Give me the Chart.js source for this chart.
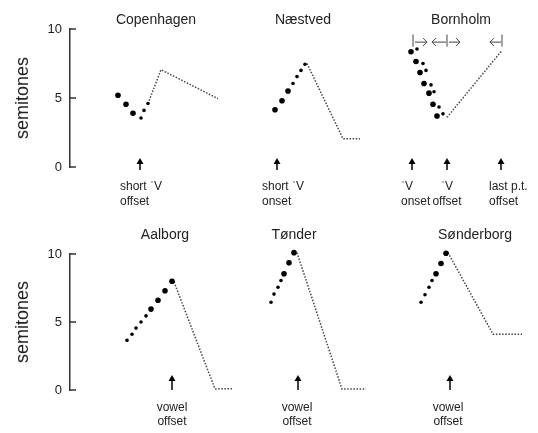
<!DOCTYPE html>
<html lang="en">
<head>
<meta charset="UTF-8">
<title>Stød pitch contours</title>
<style>
    body { margin: 0; background: #fff; }
    .wrap { position: relative; width: 538px; height: 433px; }
    canvas { position: absolute; left: 0; }
    #topRow { top: 0; }
    #bottomRow { top: 216px; }
</style>
</head>
<body>
<div class="wrap">
    <canvas id="topRow" width="538" height="216"></canvas>
    <canvas id="bottomRow" width="538" height="217"></canvas>
</div>

<script src="https://cdn.jsdelivr.net/npm/chart.js"></script>
<script>
// y axis (semitones)
const yTicks = [0, 5, 10];

// ---- top row: Copenhagen, Næstved, Bornholm ----
// x is a shared time axis across the row (arbitrary units)
const topTitles = ['Copenhagen', 'Næstved', 'Bornholm'];
const topTitleX = [86, 233, 391];

const cphBigX = [48, 56, 63];
const cphBigY = [5.2, 4.55, 3.9];
const cphSmallX = [71, 74, 78];
const cphSmallY = [3.55, 4.1, 4.6];
const cphLineX = [78, 91, 148];
const cphLineY = [4.6, 7.05, 4.95];

const naeBigX = [205, 212, 218];
const naeBigY = [4.15, 4.8, 5.5];
const naeSmallX = [223, 227, 231, 235];
const naeSmallY = [6.05, 6.55, 7.0, 7.45];
const naeLineX = [237, 273, 290];
const naeLineY = [7.5, 2.05, 2.05];

const bornBigX = [341, 346, 350, 354, 359, 363, 367];
const bornBigY = [8.35, 7.65, 6.85, 6.05, 5.35, 4.55, 3.7];
const bornSmallX = [347, 353, 356, 361, 364, 369, 373];
const bornSmallY = [8.55, 7.5, 7.0, 5.95, 5.45, 4.35, 3.85];
const bornLineX = [377, 432];
const bornLineY = [3.6, 8.45];

const topArrowX = [70, 207, 342, 377, 431];
const topLabels = [
    { x: 50, align: 'left', lines: ['short ˈV', 'offset'] },
    { x: 192, align: 'left', lines: ['short ˈV', 'onset'] },
    { x: 331, align: 'left', lines: ['ˈV', 'onset'] },
    { x: 377, align: 'center', lines: ['ˈV', 'offset'] },
    { x: 419, align: 'left', lines: ['last p.t.', 'offset'] }
];
// interval markers above Bornholm
const bornBarX = [343, 377, 432];
const bornSpanFrom = [345, 376, 379, 431];
const bornSpanTo = [357, 362, 390, 420];

// ---- bottom row: Aalborg, Tønder, Sønderborg ----
const botTitles = ['Aalborg', 'Tønder', 'Sønderborg'];
const botTitleX = [95, 224, 405];

const aalSmallX = [57, 62, 66, 71, 76];
const aalSmallY = [3.65, 4.1, 4.55, 5.0, 5.45];
const aalBigX = [81, 88, 95, 102];
const aalBigY = [5.95, 6.6, 7.3, 8.0];
const aalLineX = [104, 145, 162];
const aalLineY = [7.95, 0.08, 0.1];

const tonSmallX = [201, 204, 208, 211];
const tonSmallY = [6.45, 7.05, 7.55, 8.05];
const tonBigX = [214, 219, 224];
const tonBigY = [8.55, 9.35, 10.1];
const tonLineX = [227, 272, 296];
const tonLineY = [10.1, 0.07, 0.07];

const sonSmallX = [351, 355, 359, 362];
const sonSmallY = [6.45, 7.0, 7.55, 8.05];
const sonBigX = [366, 371, 376];
const sonBigY = [8.55, 9.3, 10.05];
const sonLineX = [378, 423, 452];
const sonLineY = [10.1, 4.1, 4.1];

const botArrowX = [102, 228, 380];
const botLabels = [
    { x: 102, align: 'center', lines: ['vowel', 'offset'] },
    { x: 227, align: 'center', lines: ['vowel', 'offset'] },
    { x: 378, align: 'center', lines: ['vowel', 'offset'] }
];

const FONT = 'Arial, "Liberation Sans", sans-serif';
Chart.defaults.font.family = FONT;
Chart.defaults.color = '#222';

const pts = (xs, ys) => xs.map((v, i) => ({ x: v, y: ys[i] }));
const bigDots = (xs, ys) => ({
    data: pts(xs, ys), showLine: false, clip: false,
    pointRadius: 2.8, pointBackgroundColor: '#000', pointBorderWidth: 0
});
const smallDots = (xs, ys) => ({
    data: pts(xs, ys), showLine: false, clip: false,
    pointRadius: 1.8, pointBackgroundColor: '#000', pointBorderWidth: 0
});
const contour = (xs, ys) => ({
    data: pts(xs, ys), showLine: true, pointRadius: 0, clip: false,
    borderColor: '#444', borderWidth: 1.5, borderDash: [1.5, 1.6], fill: false
});

function arrowUp(ctx, x, tip, tail) {
    ctx.strokeStyle = '#000';
    ctx.fillStyle = '#000';
    ctx.lineWidth = 1.5;
    ctx.beginPath();
    ctx.moveTo(x, tail);
    ctx.lineTo(x, tip + 4);
    ctx.stroke();
    ctx.beginPath();
    ctx.moveTo(x, tip);
    ctx.lineTo(x - 3.5, tip + 6);
    ctx.lineTo(x + 3.5, tip + 6);
    ctx.closePath();
    ctx.fill();
}

function arrowSide(ctx, x0, x1, y) {
    const d = x1 > x0 ? 1 : -1;
    ctx.beginPath();
    ctx.moveTo(x0, y);
    ctx.lineTo(x1, y);
    ctx.moveTo(x1 - d * 4, y - 4);
    ctx.lineTo(x1, y);
    ctx.lineTo(x1 - d * 4, y + 4);
    ctx.stroke();
}

// ticks pointing into the panel, titles, arrows and notes under the panels
const annotate = {
    id: 'annotate',
    afterDraw(chart, args, o) {
        const { ctx, chartArea: ca, scales: { x, y } } = chart;
        ctx.save();
        ctx.strokeStyle = '#333';
        ctx.lineWidth = 1.5;
        yTicks.forEach(v => {
            const py = y.getPixelForValue(v);
            ctx.beginPath();
            ctx.moveTo(ca.left, py);
            ctx.lineTo(ca.left + 6, py);
            ctx.stroke();
        });

        ctx.fillStyle = '#222';
        ctx.font = '14px ' + FONT;
        ctx.textAlign = 'center';
        ctx.textBaseline = 'middle';
        o.titles.forEach((t, i) => {
            ctx.fillText(t, x.getPixelForValue(o.titleX[i]), y.getPixelForValue(o.titleY));
        });

        o.arrowX.forEach(v => {
            arrowUp(ctx, x.getPixelForValue(v), ca.bottom + o.arrowTip, ca.bottom + o.arrowTail);
        });

        ctx.fillStyle = '#222';
        ctx.font = '12px ' + FONT;
        o.labels.forEach(l => {
            ctx.textAlign = l.align;
            l.lines.forEach((s, j) => {
                ctx.fillText(s, x.getPixelForValue(l.x), ca.bottom + o.labelDy[j]);
            });
        });

        if (o.spans) {
            const yb = y.getPixelForValue(9.05);
            ctx.strokeStyle = '#444';
            ctx.lineWidth = 1;
            bornBarX.forEach(v => {
                const px = x.getPixelForValue(v);
                ctx.beginPath();
                ctx.moveTo(px, y.getPixelForValue(9.6));
                ctx.lineTo(px, y.getPixelForValue(8.72));
                ctx.stroke();
            });
            bornSpanFrom.forEach((v, i) => {
                arrowSide(ctx, x.getPixelForValue(v), x.getPixelForValue(bornSpanTo[i]), yb);
            });
        }
        ctx.restore();
    }
};

function rowChart(id, datasets, pad, notes) {
    return new Chart(document.getElementById(id), {
        type: 'scatter',
        data: { datasets },
        options: {
            responsive: false,
            animation: false,
            layout: { padding: pad },
            plugins: {
                legend: { display: false },
                tooltip: { enabled: false },
                annotate: notes
            },
            scales: {
                x: { type: 'linear', min: 0, max: 460, display: false },
                y: {
                    min: 0, max: 10,
                    afterFit: s => { s.width = 70; },
                    afterBuildTicks: s => { s.ticks = yTicks.map(v => ({ value: v })); },
                    grid: { drawOnChartArea: false, drawTicks: false },
                    border: { display: true, color: '#333', width: 1.5 },
                    ticks: { font: { size: 13 }, color: '#222', padding: 8 },
                    title: {
                        display: true, text: 'semitones', color: '#222',
                        font: { size: 18 }, padding: { top: 12, bottom: 0 }
                    }
                }
            }
        },
        plugins: [annotate]
    });
}

rowChart('topRow', [
    bigDots(cphBigX, cphBigY), smallDots(cphSmallX, cphSmallY), contour(cphLineX, cphLineY),
    bigDots(naeBigX, naeBigY), smallDots(naeSmallX, naeSmallY), contour(naeLineX, naeLineY),
    bigDots(bornBigX, bornBigY), smallDots(bornSmallX, bornSmallY), contour(bornLineX, bornLineY)
], { top: 29, bottom: 49, left: 0, right: 8 }, {
    titles: topTitles, titleX: topTitleX, titleY: 10.65,
    arrowX: topArrowX, arrowTip: -9, arrowTail: 3,
    labels: topLabels, labelDy: [20, 35], spans: true
});

rowChart('bottomRow', [
    smallDots(aalSmallX, aalSmallY), bigDots(aalBigX, aalBigY), contour(aalLineX, aalLineY),
    smallDots(tonSmallX, tonSmallY), bigDots(tonBigX, tonBigY), contour(tonLineX, tonLineY),
    smallDots(sonSmallX, sonSmallY), bigDots(sonBigX, sonBigY), contour(sonLineX, sonLineY)
], { top: 38, bottom: 43, left: 0, right: 8 }, {
    titles: botTitles, titleX: botTitleX, titleY: 11.4,
    arrowX: botArrowX, arrowTip: -15, arrowTail: 0,
    labels: botLabels, labelDy: [18, 32], spans: false
});
</script>
</body>
</html>
